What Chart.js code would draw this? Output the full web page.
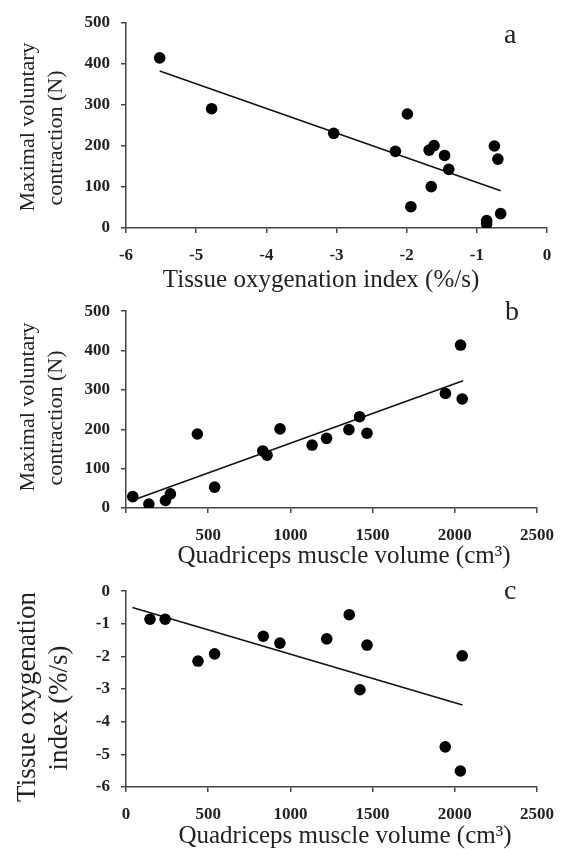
<!DOCTYPE html>
<html>
<head>
<meta charset="utf-8">
<script src="https://cdn.jsdelivr.net/npm/chart.js@4.4.1/dist/chart.umd.min.js"></script>
<style>
  body { margin: 0; background: #fff; }
  #page { position: relative; width: 566px; height: 849px; overflow: hidden; }
  canvas { position: absolute; left: 0; }
</style>
</head>
<body>
<div id="page">
  <canvas id="chartA" width="566" height="295" style="top:0px"></canvas>
  <canvas id="chartB" width="566" height="290" style="top:290px"></canvas>
  <canvas id="chartC" width="566" height="279" style="top:570px"></canvas>
</div>
<script>
// ---- Panel a : MVC vs tissue oxygenation index ----
const toiA = [-5.52, -4.78, -3.04, -1.99, -2.16, -1.68, -1.61, -1.46, -1.40, -1.65, -1.94, -0.75, -0.70, -0.66, -0.86, -0.86];
const mvcA = [415, 291, 231, 278, 187, 190, 201, 177, 143, 101, 52, 200, 168, 35, 18, 10];
const trendA = [[-5.52, 383], [-0.66, 91]];

// ---- Panel b : MVC vs quadriceps volume ----
const volB = [41, 139, 240, 270, 434, 539, 832, 858, 937, 1132, 1220, 1356, 1421, 1466, 1943, 2035, 2045];
const mvcB = [29, 10, 19, 36, 188, 53, 145, 134, 201, 160, 177, 199, 232, 190, 291, 414, 277];
const trendB = [[41, 20], [2050, 323]];

// ---- Panel c : TOI vs quadriceps volume ----
const volC = [146, 238, 438, 539, 835, 936, 1221, 1358, 1423, 1466, 1942, 2034, 2045];
const toiC = [-0.86, -0.86, -2.14, -1.92, -1.38, -1.59, -1.46, -0.72, -3.02, -1.65, -4.77, -5.51, -1.98];
const trendC = [[39, -0.50], [2047, -3.49]];

// ---- Ticks ----
const ticksA_x = [-6, -5, -4, -3, -2, -1, 0];
const ticksMvc = [0, 100, 200, 300, 400, 500];
const ticksVol = [0, 500, 1000, 1500, 2000, 2500];
const ticksToi = [0, -1, -2, -3, -4, -5, -6];

const SERIF = '"Liberation Serif", "Times New Roman", serif';
const INK = '#222';
const AXIS = '#444';

// Titres d'axes et lettre du panneau, dessinés à la main
const panelText = {
    id: 'panelText',
    afterDraw(chart, args, o) {
        const ctx = chart.ctx;
        ctx.save();
        ctx.fillStyle = INK;
        ctx.textBaseline = 'alphabetic';

        ctx.font = `${o.xFont}px ${SERIF}`;
        ctx.textAlign = 'center';
        ctx.fillText(o.xTitle, o.xPos[0], o.xPos[1]);

        ctx.font = `${o.yFont}px ${SERIF}`;
        o.yTitle.forEach((line, i) => {
            ctx.save();
            ctx.translate(o.yPos[i][0], o.yPos[i][1]);
            ctx.rotate(-Math.PI / 2);
            ctx.fillText(line, 0, 0);
            ctx.restore();
        });

        ctx.font = `${o.letterFont}px ${SERIF}`;
        ctx.textAlign = 'left';
        ctx.fillText(o.letter, o.letterPos[0], o.letterPos[1]);
        ctx.restore();
    }
};

function toPoints(xs, ys) {
    return xs.map((x, i) => ({ x, y: ys[i] }));
}

function makeScale(ticks, isX, hideZero, size) {
    const lo = Math.min(...ticks), hi = Math.max(...ticks);
    return {
        type: 'linear',
        min: lo,
        max: hi,
        afterBuildTicks: (s) => { s.ticks = ticks.map(v => ({ value: v })); },
        afterFit: (s) => {
            if (isX) s.height = size; else s.width = size;
        },
        border: { display: true, color: AXIS, width: 1.5 },
        grid: {
            display: true,
            drawOnChartArea: false,
            drawTicks: true,
            tickLength: 5,
            color: AXIS,
            lineWidth: 1.5
        },
        ticks: {
            color: INK,
            padding: isX ? 12 : 11,
            font: { family: SERIF, size: 17, weight: 'bold' },
            callback: (v) => (hideZero && v === 0) ? '' : String(v)
        }
    };
}

function buildPanel(id, pts, trend, cfg) {
    return new Chart(document.getElementById(id), {
        type: 'scatter',
        data: {
            datasets: [
                {
                    data: pts,
                    backgroundColor: '#000',
                    borderWidth: 0,
                    pointRadius: 5.8,
                    pointHoverRadius: 5.8
                },
                {
                    type: 'line',
                    data: trend.map(p => ({ x: p[0], y: p[1] })),
                    borderColor: '#111',
                    borderWidth: 1.6,
                    pointRadius: 0,
                    fill: false,
                    tension: 0
                }
            ]
        },
        options: {
            responsive: false,
            animation: false,
            layout: { padding: { top: cfg.padTop, right: 19, left: 0, bottom: 0 } },
            plugins: {
                legend: { display: false },
                tooltip: { enabled: false },
                panelText: cfg.text
            },
            scales: {
                x: makeScale(cfg.xTicks, true, cfg.hideX0, cfg.xHeight),
                y: makeScale(cfg.yTicks, false, false, 126)
            }
        },
        plugins: [panelText]
    });
}

buildPanel('chartA', toPoints(toiA, mvcA), trendA, {
    padTop: 23, xHeight: 67, xTicks: ticksA_x, yTicks: ticksMvc, hideX0: false,
    text: {
        xTitle: 'Tissue oxygenation index (%/s)', xFont: 25, xPos: [321, 287],
        yTitle: ['Maximal voluntary', 'contraction (N)'], yFont: 22,
        yPos: [[33.5, 127], [61.5, 138]],
        letter: 'a', letterFont: 28, letterPos: [504, 43]
    }
});

buildPanel('chartB', toPoints(volB, mvcB), trendB, {
    padTop: 13, xHeight: 72, xTicks: ticksVol, yTicks: ticksMvc, hideX0: true,
    text: {
        xTitle: 'Quadriceps muscle volume (cm³)', xFont: 25, xPos: [344, 273],
        yTitle: ['Maximal voluntary', 'contraction (N)'], yFont: 22,
        yPos: [[33.5, 117], [61.5, 128]],
        letter: 'b', letterFont: 28, letterPos: [505, 30]
    }
});

buildPanel('chartC', toPoints(volC, toiC), trendC, {
    padTop: 10, xHeight: 62, xTicks: ticksVol, yTicks: ticksToi, hideX0: false,
    text: {
        xTitle: 'Quadriceps muscle volume (cm³)', xFont: 25, xPos: [345, 273],
        yTitle: ['Tissue oxygenation', 'index (%/s)'], yFont: 27,
        yPos: [[35, 127], [66.5, 138]],
        letter: 'c', letterFont: 28, letterPos: [504, 29]
    }
});
</script>
</body>
</html>
